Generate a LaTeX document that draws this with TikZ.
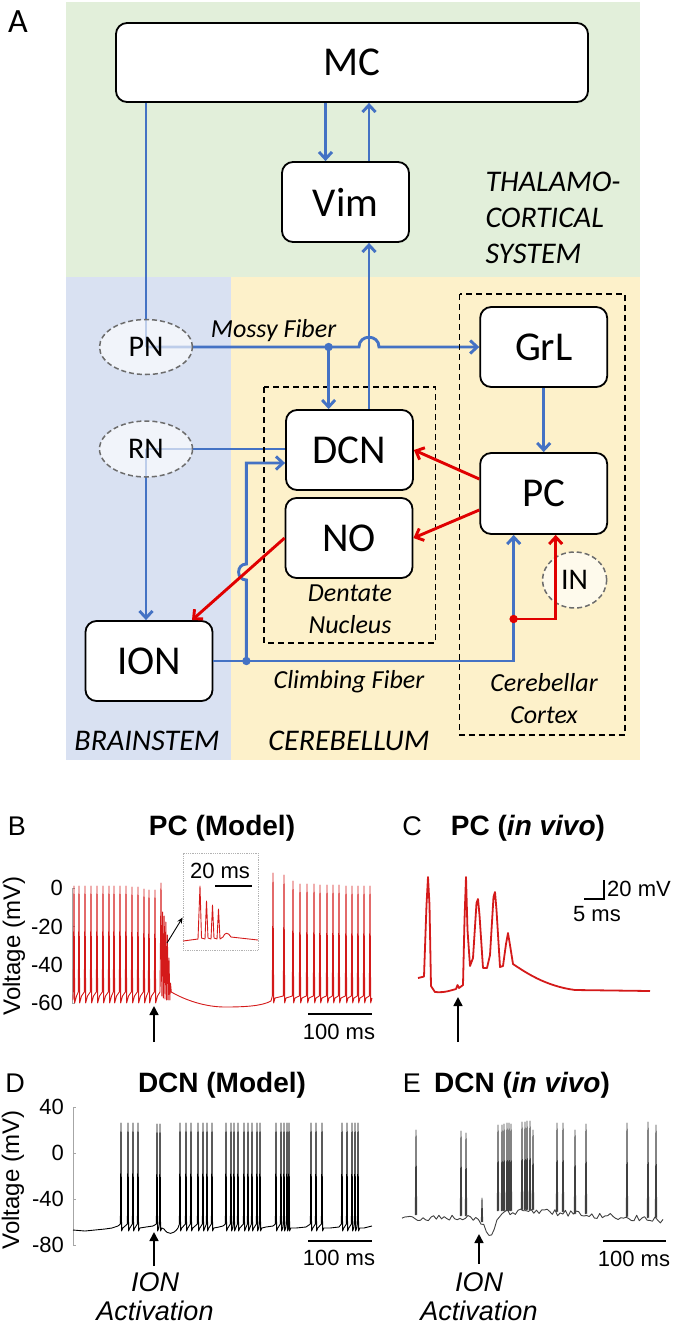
\documentclass[tikz,border=0pt]{standalone}
\usepackage{fontspec}
\setmainfont{Liberation Sans}
\newfontfamily\calibri{Carlito}
\usetikzlibrary{arrows.meta,shapes.geometric}
\pgfdeclarelayer{bg}
\pgfdeclarelayer{mid}
\pgfsetlayers{bg,mid,main}
\definecolor{thgreen}{HTML}{E2EFDA}
\definecolor{bsblue}{HTML}{D9E1F2}
\definecolor{cbyellow}{HTML}{FDF1CA}
\definecolor{fiber}{HTML}{4472C4}
\definecolor{inhib}{HTML}{E00000}
\definecolor{trace}{HTML}{D41A1A}
\tikzset{
  block/.style={draw,rounded corners=11pt,fill=white,line width=1.8pt,minimum width=127pt,minimum height=80pt,inner sep=0pt,font=\calibri\fontsize{41}{41}\selectfont},
  nucleus/.style={ellipse,draw=gray!85!black,dash pattern=on 5pt off 3pt,line width=1.5pt,fill=white,fill opacity=0.65,text opacity=1,minimum width=93pt,minimum height=55pt,inner sep=0pt,font=\calibri\fontsize{30}{30}\selectfont},
  fib/.style={draw=fiber,line width=2.9pt},
  exc/.style={fib,-{Straight Barb[length=7pt,width=13pt]}},
  inh/.style={draw=inhib,line width=2.9pt,-{Straight Barb[length=7pt,width=13pt]}},
  region/.style={font=\calibri\itshape\fontsize{30}{36}\selectfont},
  tag/.style={font=\calibri\itshape\fontsize{26}{32}\selectfont,align=center},
  frame/.style={draw,dash pattern=on 6pt off 4pt,line width=1.7pt},
  panel/.style={font=\fontsize{27}{27}\selectfont,anchor=base},
  ptitle/.style={font=\bfseries\fontsize{28}{28}\selectfont,anchor=base},
  tick/.style={font=\fontsize{22}{22}\selectfont,anchor=east,inner sep=1pt},
  ylab/.style={font=\fontsize{24}{24}\selectfont,rotate=90},
  sbar/.style={font=\fontsize{22}{22}\selectfont,inner sep=1pt},
  axis/.style={draw=gray!70,line width=0.8pt},
  pointer/.style={draw=black,line width=1.6pt,-{Triangle[length=9pt,width=9pt]}},
  stim/.style={font=\itshape\fontsize{27}{29}\selectfont,align=center},
  redtrace/.style={draw=trace,line width=0.9pt,line join=round},
  dtrace/.style={draw=black,line width=0.9pt,line join=round},
  etrace/.style={draw=black!75,line width=0.9pt,line join=round}
}
\begin{document}
\begin{tikzpicture}[x=1pt,y=-1pt]
\useasboundingbox (0,0) rectangle (677,1326);

%regions
\begin{pgfonlayer}{bg}
\fill[thgreen] (66,2) rectangle (640,277);
\fill[bsblue] (66,277) rectangle (231,760);
\fill[cbyellow] (231,277) rectangle (640,760);
\end{pgfonlayer}

\node[font=\calibri\fontsize{34}{34}\selectfont] at (18,22) {A};

\draw[frame] (264,387) rectangle (435.4,643);
\draw[frame] (459.6,294) rectangle (624.7,735);

\node[block,minimum width=472pt,minimum height=79pt] (MC) at (352,62.5) {MC};
\node[block] (Vim) at (345.5,202) {Vim};
\node[block] (DCN) at (349.5,450) {DCN};
\node[block] (NO) at (349,538) {NO};
\node[block] (GrL) at (543.7,347) {GrL};
\node[block,minimum height=81pt] (PC) at (543.7,493.5) {PC};
\node[block] (ION) at (149,661) {ION};
\node[nucleus] (PN) at (146,347) {PN};
\node[nucleus,minimum height=56pt] (RN) at (146,449) {RN};
\node[nucleus,minimum width=64pt,minimum height=56pt] (IN) at (574.6,580) {IN};

\coordinate (mf) at (328.6,347);
\coordinate (cf) at (246.4,661);
\coordinate (ind) at (513.6,619);

%lines through the nuclei
\begin{pgfonlayer}{mid}
\draw[fib] (PN.center |- MC.south) -- (PN.center);
\draw[exc] (PN.center) -- (359,347) .. controls (359,334) and (379,334) .. (379,347) -- (GrL.west);
\draw[fib] (RN.center) -- (RN.center -| DCN.west);
\draw[exc] (RN.center) -- (RN.center |- ION.north);
\end{pgfonlayer}

\draw[exc] ([xshift=-20pt]Vim.north |- MC.south) -- ([xshift=-20pt]Vim.north);
\draw[exc] ([xshift=23.5pt]Vim.north) -- ([xshift=23.5pt]Vim.north |- MC.south);
\draw[exc] ([xshift=19.5pt]DCN.north) -- ([xshift=19.5pt]DCN.north |- Vim.south);
\draw[exc] (mf) -- (mf |- DCN.north);
\fill[fiber] (mf) circle (4.2pt);
\draw[exc] (GrL.south) -- (PC.north);

%climbing fiber
\draw[exc] (ION.east) -| ([xshift=-30pt]PC.south);
\draw[exc] (cf) -- (246.4,580) .. controls (236,580) and (236,564) .. (246.4,564) |- ([yshift=-13pt]DCN.west);
\fill[fiber] (cf) circle (4.2pt);

\draw[inh] ([yshift=14.5pt]PC.west) -- (DCN.east);
\draw[inh] ([yshift=-16.5pt]PC.west) -- (NO.east);
\draw[inh] (NO.west) -- ([xshift=43pt]ION.north);
\draw[inh] (ind) -| ([xshift=12pt]PC.south);
\fill[inhib] (ind) circle (4.2pt);

\node[tag] at (273.5,331) {Mossy Fiber};
\node[tag] at (350,609) {Dentate\\Nucleus};
\node[tag] at (349,682) {Climbing Fiber};
\node[tag] at (544,698.5) {Cerebellar\\Cortex};
\node[region,align=left,anchor=west] at (482,218) {THALAMO-\\CORTICAL\\SYSTEM};
\node[region] at (147,741) {BRAINSTEM};
\node[region] at (349,741) {CEREBELLUM};

%B
\node[panel] at (17,835) {B};
\node[ptitle] at (222,835) {PC (Model)};
\node[ylab] at (14,946) {Voltage (mV)};
\draw[axis] (72,888) -- (72,1003);
\foreach \t/\v in {888/0,926.5/-20,965/-40,1003/-60}{
  \draw[axis] (72,\t) -- (75,\t);
  \node[tick] at (64,\t) {\v};
}
\draw[redtrace] (73,1000)
  \foreach \s/\p in {74/886,79/886,85/886,91/886,97/886,103/886,109/886,114/886,120/886,126/886,132/887,138/887,144/889,149/890,155/890}
    { -- ({\s-0.7},992) -- (\s,\p) -- ({\s+0.7},1003) -- ({\s+2.5},996) }
  -- (160,992) -- (161,883) -- (161.8,996) -- (162.6,912) -- (163.4,998) -- (164.2,916) -- (165,999) -- (165.8,922)
  -- (166.6,1000) -- (167.4,935) -- (168.2,1000) -- (169,958) -- (169.8,1000) -- (170.5,983) -- (171.3,992)
  .. controls (185,1000) and (205,1007) .. (225,1007) .. controls (245,1007) and (262,1006) .. (271,1001)
  \foreach \s/\p in {273/873,284/875,293/881,300/884,307/884,314/884,320/885,327/885,333/885,339/885,346/886,352/886,358/886,364/886,370/886}
    { -- ({\s-0.7},996) -- (\s,\p) -- ({\s+0.7},1003) -- ({\s+2},998) };
%inset
\node[draw=gray!60,densely dotted,line width=0.8pt,minimum width=75pt,minimum height=97pt,inner sep=0pt] (inset) at (220.5,901.5) {};
\node[sbar] at (220,871) {20 ms};
\draw[line width=1.2pt] (215,886) -- (252,886);
\draw[redtrace] (183,941) -- (198,939) -- (200,886) -- (201.5,938) -- (205,939) -- (206.5,901) -- (208,938) -- (211,939)
  -- (212.5,905) -- (214,938) -- (217,939) -- (218.5,909) -- (220,939) -- (223,937)
  .. controls (225,932) and (228,932) .. (231,937) -- (258,940);
\coordinate (burst) at (167,943);
\draw[line width=0.9pt,-{Stealth[length=6pt,width=5pt]}] (burst) -- ([yshift=-16pt]inset.west);
\draw[pointer] (154,1042) -- (154,1006);
\draw[line width=1.2pt] (308,1014) -- (372,1014);
\node[sbar] at (339,1032) {100 ms};

%C
\node[panel] at (412,835) {C};
\node[ptitle] at (528,835) {PC (\textit{in vivo})};
\draw[redtrace,line width=1.8pt] (418,978) -- (424,976.5) -- (426.5,905) -- (428,877) -- (429.5,905) -- (431,986) -- (435,992)
  .. controls (445,993) and (452,990) .. (456,989) -- (457.5,985) -- (459,988) -- (463,985) -- (464.5,920) -- (466,877)
  -- (467.5,930) -- (470,966) -- (473,958) -- (476.5,903) -- (478,899) -- (479.5,915) -- (483,968) -- (487,968)
  -- (490,955) -- (493.5,897) -- (495,892) -- (496.5,910) -- (500,967) -- (503,966) -- (506,944) -- (508,933)
  -- (510,945) -- (513,964) .. controls (525,972) and (545,986) .. (575,990) -- (650,991);
\draw[pointer] (458,1042) -- (458,997);
\draw[line width=1.2pt] (584,899) -- (604,899) -- (604,880);
\node[sbar,anchor=west] at (606,889) {20 mV};
\node[sbar] at (597,914) {5 ms};

%D
\node[panel] at (15,1092) {D};
\node[ptitle] at (222,1092) {DCN (Model)};
\node[ylab] at (13,1180) {Voltage (mV)};
\draw[axis] (73,1107) -- (73,1245);
\foreach \t/\v in {1107/40,1153/0,1199/-40,1245/-80}{
  \draw[axis] (73,\t) -- (76,\t);
  \node[tick] at (65,\t) {\v};
}
\draw[dtrace] (73,1230) -- (85,1231) -- (95,1230) -- (105,1229) -- (112,1228) -- (118,1226)
  \foreach \s in {121,128,133,138} { -- ({\s-0.6},1224) -- (\s,1123) -- ({\s+0.6},1231) -- ({\s+1.8},1228) }
  -- (146,1227) -- (153,1226)
  \foreach \s in {157,160} { -- ({\s-0.6},1224) -- (\s,1124) -- ({\s+0.6},1231) -- ({\s+1.8},1228) }
  -- (164,1229) .. controls (168,1235) and (173,1235) .. (178,1228)
  \foreach \s in {180,186,191,198,203,207,212} { -- ({\s-0.6},1224) -- (\s,1123) -- ({\s+0.6},1231) -- ({\s+1.8},1228) }
  -- (219,1227) -- (223,1226)
  \foreach \s in {226,231,234,238,244,248,252,257,260} { -- ({\s-0.6},1224) -- (\s,1123) -- ({\s+0.6},1231) -- ({\s+1.8},1228) }
  -- (266,1227) -- (273,1226)
  \foreach \s in {276,281,284,287,289} { -- ({\s-0.6},1224) -- (\s,1123) -- ({\s+0.6},1231) -- ({\s+1.8},1228) }
  -- (296,1228) -- (306,1227)
  \foreach \s in {311,316,322} { -- ({\s-0.6},1224) -- (\s,1123) -- ({\s+0.6},1231) -- ({\s+1.8},1228) }
  -- (330,1228) -- (339,1227)
  \foreach \s in {342,347,352,355,358} { -- ({\s-0.6},1224) -- (\s,1123) -- ({\s+0.6},1231) -- ({\s+1.8},1228) }
  -- (364,1228) -- (372,1226);
\draw[pointer] (154,1266) -- (154,1232);
\node[stim] at (155,1297) {ION\\Activation};
\draw[line width=1.2pt] (308,1241) -- (372,1241);
\node[sbar] at (339,1258) {100 ms};

%E
\node[panel] at (412,1092) {E};
\node[ptitle] at (522,1092) {DCN (\textit{in vivo})};
\pgfmathsetseed{11}
\draw[etrace] plot[domain=402:663,samples=100]
  (\x,{1218+1.5*max(\x-478,0)-3.5*max(\x-490,0)+2*max(\x-502,0)+0.07*max(\x-545,0)+3.2*rand});
\foreach \s/\p/\b in {416/1130/1215,461/1131/1216,466/1133/1216,482/1198/1222,498/1125/1211,502/1125/1211,504/1124/1211,507/1123/1211,509/1123/1211,511/1124/1211,522/1122/1210,525/1122/1210,527/1121/1210,530/1121/1210,533/1130/1210,557/1123/1212,563/1123/1212,575/1130/1214,586/1124/1214,627/1123/1217,648/1122/1218,656/1125/1218}
  \draw[etrace] ({\s-0.7},\b) -- (\s,\p) -- ({\s+0.7},\b);
\draw[pointer] (479,1264) -- (479,1234);
\node[stim] at (479,1297) {ION\\Activation};
\draw[line width=1.2pt] (603,1241) -- (666,1241);
\node[sbar] at (634,1259) {100 ms};
\end{tikzpicture}
\end{document}
